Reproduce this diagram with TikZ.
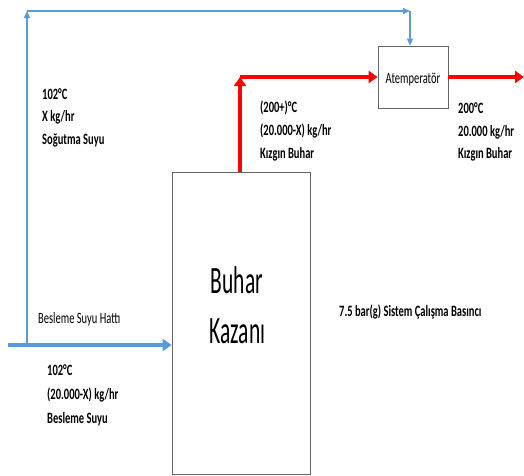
\documentclass[tikz,border=0pt]{standalone}
\usepackage{fontspec}
\usepackage{graphicx}
\setmainfont{Carlito}
\usetikzlibrary{arrows.meta}
\definecolor{pipeblue}{HTML}{5B9BD5}
\definecolor{pipered}{HTML}{FF0000}
\newcommand\vstretch[2][1.5]{\scalebox{1}[#1]{#2}}
\begin{document}
\begin{tikzpicture}[x=1pt,y=-1pt,
  box/.style={draw=black!60,line width=0.8pt,fill=white,inner sep=0pt},
  thinblue/.style={draw=pipeblue,line width=1.6pt,-{Triangle[length=7pt,width=6pt]}},
  thickblue/.style={draw=pipeblue,line width=4pt,-{Triangle[length=9pt,width=12pt]}},
  thickred/.style={draw=pipered,line width=4pt,-{Triangle[length=9pt,width=12pt]}},
  lbl/.style={font=\fontsize{10.5}{13}\selectfont\bfseries,anchor=base west,inner sep=0pt},
  plain/.style={font=\fontsize{10.5}{13}\selectfont,anchor=base west,inner sep=0pt}]
\useasboundingbox (0,0) rectangle (524,475);
% boxes
\node[box,minimum width=138pt,minimum height=302pt] (boiler) at (241,323) {};
\node[font=\fontsize{21.5}{26}\selectfont,anchor=base,inner sep=0pt] (bl1) at (237,293) {\vstretch[1.8]{Buhar}};
\node[font=\fontsize{21.5}{26}\selectfont,anchor=base,inner sep=0pt] (bl2) at (237.5,343) {\vstretch[1.8]{Kazanı}};
\node[box,minimum width=70pt,minimum height=62pt,font=\fontsize{10.5}{13}\selectfont] (atemp) at (413,77) {};
\node[plain,anchor=base] (atext) at (413,83) {\vstretch{Atemperatör}};
% coordinates
\coordinate (rc) at (240,77);
\coordinate (rout) at (524,77);
\coordinate (bfeed) at (8,345);
\coordinate (bj) at (27,345);
\coordinate (btop) at (27,11);
\coordinate (bcorner) at (410,11);
% red steam lines
\draw[thickred] (boiler.north -| rc) -- (rc);
\draw[thickred] (rc) -- (atemp.west);
\draw[thickred] (atemp.east) -- (rout);
% blue lines
\draw[thickblue] (bfeed) -- (boiler.west |- bfeed);
\draw[thinblue] (bj) -- (btop);
\draw[thinblue] (btop) -- (bcorner);
\draw[thinblue] (bcorner) -- (atemp.north -| bcorner);
% labels
\node[lbl] (l1a) at (42,99) {\vstretch{102°C}};
\node[lbl] (l1b) at (42,121.5) {\vstretch{X kg/hr}};
\node[lbl] (l1c) at (42,144) {\vstretch{Soğutma Suyu}};
\node[lbl] (l2a) at (260,112) {\vstretch{(200+)°C}};
\node[lbl] (l2b) at (260,135) {\vstretch{(20.000-X) kg/hr}};
\node[lbl] (l2c) at (260,158) {\vstretch{Kızgın Buhar}};
\node[lbl] (l3a) at (458,113) {\vstretch{200°C}};
\node[lbl] (l3b) at (458,136) {\vstretch{20.000 kg/hr}};
\node[lbl] (l3c) at (458,158) {\vstretch{Kızgın Buhar}};
\node[lbl] (l4a) at (47,375) {\vstretch{102°C}};
\node[lbl] (l4b) at (47,399) {\vstretch{(20.000-X) kg/hr}};
\node[lbl] (l4c) at (47,423) {\vstretch{Besleme Suyu}};
\node[plain] (l5) at (38,323) {\vstretch{Besleme Suyu Hattı}};
\node[lbl] (l6) at (339,316) {\vstretch{7.5 bar(g) Sistem Çalışma Basıncı}};
\end{tikzpicture}
\end{document}
